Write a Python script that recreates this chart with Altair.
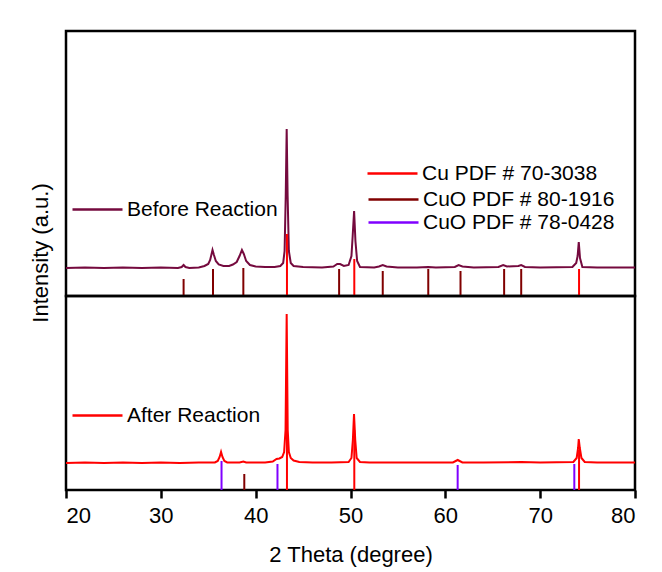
import altair as alt
import pandas as pd

# ---------------- data ----------------
# Before reaction pattern (top panel, arbitrary units)
before_2theta = [20.0, 22.0, 24.0, 26.0, 28.0, 30.0, 31.8, 32.2, 32.4, 32.6, 33.0, 34.0, 34.6, 35.0,
                 35.2, 35.35, 35.45, 35.6, 35.8, 36.1, 36.6, 37.2, 37.6, 38.0, 38.3, 38.55, 38.75,
                 39.0, 39.4, 40.0, 41.0, 42.0, 42.6, 42.9, 43.05, 43.17, 43.27, 43.37, 43.5, 43.7,
                 44.0, 45.0, 47.0, 48.2, 48.6, 48.9, 49.3, 49.8, 50.1, 50.23, 50.38, 50.52, 50.7,
                 51.0, 52.5, 53.0, 53.4, 53.8, 55.0, 57.0, 58.2, 59.0, 61.0, 61.4, 61.8, 63.0,
                 65.6, 66.1, 66.5, 67.7, 68.0, 68.4, 70.0, 73.4, 73.8, 73.95, 74.07, 74.2, 74.45,
                 76.0, 78.0, 80.0]
before_int = [28, 28.5, 28, 28.5, 28, 28.5, 28, 29, 31, 29, 28, 28.5, 30, 32,
              36, 42, 46, 41, 35, 31.5, 30, 30, 31.5, 34, 40, 46, 42,
              35, 31, 29.5, 29, 29, 30, 33, 45, 100, 167, 100, 45, 33,
              30, 29, 28.5, 29.5, 32, 32, 30, 31, 40, 60, 85, 55, 35,
              29, 28.5, 29.5, 31, 29.5, 28.5, 28.5, 29, 28.5, 29, 31, 29.5, 28.5,
              29, 31, 29.5, 30, 31, 29, 28.5, 29, 33, 40, 54, 38, 29,
              28.5, 28.5, 28.5]

# After reaction pattern (bottom panel, arbitrary units)
after_2theta = [20.0, 22.0, 24.0, 26.0, 28.0, 30.0, 32.0, 34.0, 35.7, 36.0, 36.2, 36.35, 36.5,
                36.7, 37.0, 38.3, 38.7, 39.0, 41.0, 41.8, 42.2, 42.5, 42.8, 43.0, 43.15, 43.27,
                43.38, 43.5, 43.7, 44.0, 44.6, 46.0, 48.0, 49.8, 50.1, 50.25, 50.37, 50.5, 50.65,
                51.0, 52.0, 55.0, 58.0, 60.8, 61.3, 61.8, 64.0, 68.0, 70.0, 73.5, 73.85, 74.0,
                74.07, 74.18, 74.35, 74.7, 76.0, 78.0, 80.0]
after_int = [27, 27.5, 27, 27.5, 27, 27.5, 27, 27.5, 27.5, 29, 33, 38, 33,
             29, 27.5, 27.5, 28.5, 27.5, 27.5, 28.5, 31, 31.5, 33, 38, 60, 176,
             60, 38, 32, 29.5, 28, 27.5, 27.5, 28, 32, 50, 76, 50, 32,
             28, 27.5, 27.5, 27.5, 27.5, 30, 27.5, 27.5, 28, 27.5, 28, 32, 42,
             51, 42, 32, 28, 27.5, 27.5, 27.5]

# Reference sticks, top panel
cu_top_pos = [43.3, 50.4, 74.1]
cu_top_int = [62, 37, 27]
cuo1916_top_pos = [32.4, 35.5, 38.7, 48.8, 53.4, 58.2, 61.6, 66.2, 68.0]
cuo1916_top_int = [17, 27, 28, 27, 25, 27, 25, 27, 27]

# Reference sticks, bottom panel
cu_bot_pos = [43.3, 50.4, 74.1]
cu_bot_int = [116, 60, 40]
cuo1916_bot_pos = [38.8]
cuo1916_bot_int = [16]
cuo0428_pos = [36.4, 42.3, 61.3, 73.6]
cuo0428_int = [29, 26, 25, 26]

labels = {
    "before": "Before Reaction",
    "after": "After Reaction",
    "cu": "Cu PDF # 70-3038",
    "cuo1916": "CuO PDF # 80-1916",
    "cuo0428": "CuO PDF # 78-0428",
}
colors = {
    "before": "#750A3E",
    "after": "#FF0000",
    "cu": "#FF0000",
    "cuo1916": "#800000",
    "cuo0428": "#8000FF",
}

FONT = "Liberation Sans"
TOP_H = 265
BOT_H = 194
W = 569


def frame(pos, val, key):
    return pd.DataFrame({"two_theta": pos, "intensity": val, "series": labels[key]})


def legend(x, y):
    return alt.Legend(orient="none", legendX=x, legendY=y, title=None,
                      symbolType="stroke", symbolSize=2500, symbolStrokeWidth=2.5,
                      labelFontSize=21, labelFont=FONT, labelColor="black",
                      labelOffset=3, labelLimit=0, padding=0)


def color_enc(key, leg):
    return alt.Color("series:N",
                     scale=alt.Scale(domain=[labels[key]], range=[colors[key]]),
                     legend=leg)


xscale = alt.Scale(domain=[20, 80], nice=False)
x_axis_bottom = alt.Axis(values=[20, 30, 40, 50, 60, 70, 80], tickSize=8, tickWidth=2.5,
                         tickColor="black", domain=False, grid=False,
                         labelFontSize=22, labelFont=FONT, labelColor="black", labelPadding=7,
                         title="2 Theta (degree)", titleFontSize=22, titleFont=FONT,
                         titleFontWeight="normal", titleColor="black",
                         titleY=71, titleBaseline="alphabetic")
y_axis_top = alt.Axis(labels=False, ticks=False, domain=False, grid=False,
                      title="Intensity (a.u.)", titleFontSize=22, titleFont=FONT,
                      titleFontWeight="normal", titleColor="black",
                      titleAngle=-90, titleX=-25.5, titleY=221.5,
                      titleBaseline="middle", titleAlign="center")

# ---------------- top panel ----------------
top_x = alt.X("two_theta:Q", scale=xscale, axis=None)
top_y = alt.Y("intensity:Q", scale=alt.Scale(domain=[0, TOP_H], nice=False), axis=y_axis_top)

top_curve = alt.Chart(frame(before_2theta, before_int, "before")).mark_line(strokeWidth=2).encode(
    x=top_x, y=top_y, color=color_enc("before", legend(5, 152)))
top_cuo = alt.Chart(frame(cuo1916_top_pos, cuo1916_top_int, "cuo1916")).mark_rule(strokeWidth=2).encode(
    x=top_x, y=top_y, y2=alt.datum(0), color=color_enc("cuo1916", legend(301, 142)))
top_cu = alt.Chart(frame(cu_top_pos, cu_top_int, "cu")).mark_rule(strokeWidth=2).encode(
    x=top_x, y=top_y, y2=alt.datum(0), color=color_enc("cu", legend(300, 116)))

top = alt.layer(top_curve, top_cuo, top_cu).resolve_scale(color="independent").properties(
    width=W, height=TOP_H)

# ---------------- bottom panel ----------------
bot_x = alt.X("two_theta:Q", scale=xscale, axis=x_axis_bottom)
bot_y = alt.Y("intensity:Q", scale=alt.Scale(domain=[0, BOT_H], nice=False), axis=None)

bot_curve = alt.Chart(frame(after_2theta, after_int, "after")).mark_line(strokeWidth=2).encode(
    x=bot_x, y=bot_y, color=color_enc("after", legend(5, 93)))
bot_purple = alt.Chart(frame(cuo0428_pos, cuo0428_int, "cuo0428")).mark_rule(strokeWidth=2).encode(
    x=bot_x, y=bot_y, y2=alt.datum(0), color=color_enc("cuo0428", legend(301, -100)))
bot_cuo = alt.Chart(frame(cuo1916_bot_pos, cuo1916_bot_int, "cuo1916")).mark_rule(strokeWidth=2).encode(
    x=bot_x, y=bot_y, y2=alt.datum(0), color=color_enc("cuo1916", None))
bot_cu = alt.Chart(frame(cu_bot_pos, cu_bot_int, "cu")).mark_rule(strokeWidth=2).encode(
    x=bot_x, y=bot_y, y2=alt.datum(0), color=color_enc("cu", None))

bottom = alt.layer(bot_curve, bot_purple, bot_cuo, bot_cu).resolve_scale(color="independent").properties(
    width=W, height=BOT_H)

chart = alt.vconcat(top, bottom, spacing=0, bounds="flush").resolve_scale(
    color="independent").properties(
    padding={"left": 20, "top": 21, "right": 10, "bottom": 5},
    background="white",
).configure_view(stroke="black", strokeWidth=2.5)

chart.save("out.html", embed_options={"renderer": "svg", "actions": False})
